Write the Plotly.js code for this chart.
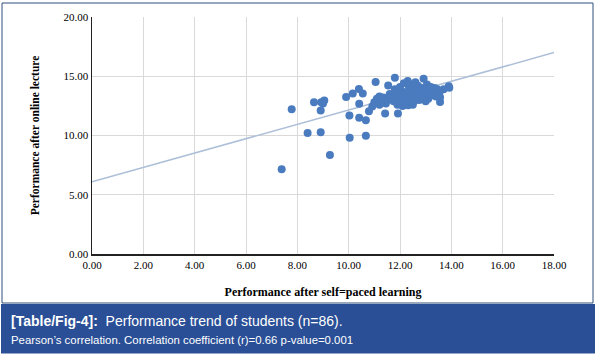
<!DOCTYPE html>
<html>
<head>
<meta charset="utf-8">
<script src="https://cdn.plot.ly/plotly-3.0.1.min.js"></script>
<style>
html,body{margin:0;padding:0;background:#fff;}
#chart{width:600px;height:358px;}
</style>
</head>
<body>
<div id="chart"></div>
<script>
// Performance after self-paced learning (x) vs after online lecture (y)
const selfPaced = [
  7.39, 7.78, 8.40, 8.91, 9.27, 8.65, 8.93, 9.05, 9.00, 8.91,
  9.90, 10.16, 10.40, 10.55, 11.05, 10.41, 10.03, 10.41, 10.67, 10.04,
  10.67, 10.79, 11.42, 11.92, 11.80, 11.54, 12.92, 13.92, 13.90, 13.56,
  13.56, 13.56, 12.32, 10.92, 11.00, 11.10, 11.20, 11.30, 11.35, 11.45,
  11.50, 11.70, 11.75, 11.80, 11.85, 11.90, 12.00, 12.00, 12.05, 12.10,
  12.15, 12.20, 12.25, 12.30, 12.35, 12.40, 12.45, 12.50, 12.55, 12.60,
  12.65, 12.70, 12.75, 12.80, 12.85, 12.90, 12.95, 13.00, 13.05, 13.10,
  13.15, 13.20, 13.25, 13.30, 13.35, 13.40, 13.45, 12.60, 12.10, 11.95,
  12.30, 11.60, 13.00, 12.50, 13.70, 11.20
];
const onlineLecture = [
  7.15, 12.22, 10.22, 10.27, 8.36, 12.80, 12.80, 12.95, 12.70, 12.12,
  13.25, 13.54, 13.92, 13.55, 14.52, 12.68, 11.68, 11.50, 11.29, 9.80,
  9.97, 12.05, 11.85, 11.85, 14.88, 14.22, 14.78, 14.03, 14.15, 12.83,
  13.22, 13.75, 12.55, 12.45, 12.80, 13.10, 12.60, 12.90, 13.20, 12.70,
  13.00, 13.30, 12.90, 13.90, 13.50, 12.60, 14.10, 13.20, 12.80, 13.70,
  14.40, 13.00, 13.40, 12.90, 14.00, 13.60, 13.20, 14.30, 12.90, 13.80,
  13.40, 14.20, 13.00, 13.60, 14.00, 13.30, 13.90, 13.50, 14.30, 13.10,
  13.80, 14.10, 13.40, 13.70, 14.00, 13.30, 13.90, 14.50, 12.50, 13.00,
  14.60, 13.50, 12.90, 12.60, 13.90, 13.30
];
// Linear trend line end points
const trendX = [0, 18];
const trendY = [6.1, 17.0];

const xTicks = [0, 2, 4, 6, 8, 10, 12, 14, 16, 18];
const yTicks = [0, 5, 10, 15, 20];

const serif = "Liberation Serif, Times New Roman, serif";
const sans = "Liberation Sans, Arial, sans-serif";

const traces = [
  {
    x: trendX, y: trendY, type: "scatter", mode: "lines",
    line: {color: "#adbfd8", width: 1.5},
    hoverinfo: "skip", showlegend: false
  },
  {
    x: selfPaced, y: onlineLecture, type: "scatter", mode: "markers",
    marker: {color: "#4a7bbf", size: 8, line: {width: 0}},
    showlegend: false
  }
];

const layout = {
  width: 600, height: 358,
  margin: {l: 92, r: 46, t: 17, b: 104},
  paper_bgcolor: "#ffffff",
  plot_bgcolor: "#ffffff",
  font: {family: serif, color: "#000"},
  xaxis: {
    range: [0, 18],
    tickvals: xTicks,
    ticktext: xTicks.map(v => v.toFixed(2)),
    tickfont: {family: serif, size: 11, color: "#000"},
    showgrid: true, gridcolor: "#d9d9d9", gridwidth: 1,
    zeroline: false,
    showline: true, linecolor: "#222", linewidth: 1.5,
    ticks: "", ticklen: 0,
    title: {text: "<b>Performance after self=paced learning</b>",
            font: {family: serif, size: 12, color: "#000"}, standoff: 18}
  },
  yaxis: {
    range: [0, 20],
    tickvals: yTicks,
    ticktext: yTicks.map(v => v.toFixed(2)),
    tickfont: {family: serif, size: 11, color: "#000"},
    showgrid: true, gridcolor: "#d9d9d9", gridwidth: 1,
    zeroline: false,
    showline: true, linecolor: "#222", linewidth: 1.5,
    ticks: "", ticklen: 0,
    title: {text: "<b>Performance after online lecture</b>",
            font: {family: serif, size: 11.5, color: "#000"}, standoff: 21}
  },
  shapes: [
    {type: "rect", xref: "paper", yref: "paper",
     x0: -90/462, x1: 501/462, y0: 1 + 14/237, y1: -49/237,
     line: {color: "#2d4f7d", width: 1}, fillcolor: "rgba(0,0,0,0)", layer: "below"},
    {type: "rect", xref: "paper", yref: "paper",
     x0: -91/462, x1: 503/462, y0: -50/237, y1: -99.5/237,
     line: {width: 0}, fillcolor: "#2a4f96", layer: "above"}
  ],
  annotations: [
    {xref: "paper", yref: "paper", x: -83/462, y: -67/237,
     xanchor: "left", yanchor: "middle", showarrow: false,
     text: "<b>[Table/Fig-4]:</b>  Performance trend of students (n=86).",
     font: {family: sans, size: 14, color: "#ffffff"}},
    {xref: "paper", yref: "paper", x: -83/462, y: -86/237,
     xanchor: "left", yanchor: "middle", showarrow: false,
     text: "Pearson’s correlation. Correlation coefficient (r)=0.66 p-value=0.001",
     font: {family: sans, size: 11.4, color: "#ffffff"}}
  ]
};

Plotly.newPlot("chart", traces, layout, {displayModeBar: false, staticPlot: true});
</script>
</body>
</html>
